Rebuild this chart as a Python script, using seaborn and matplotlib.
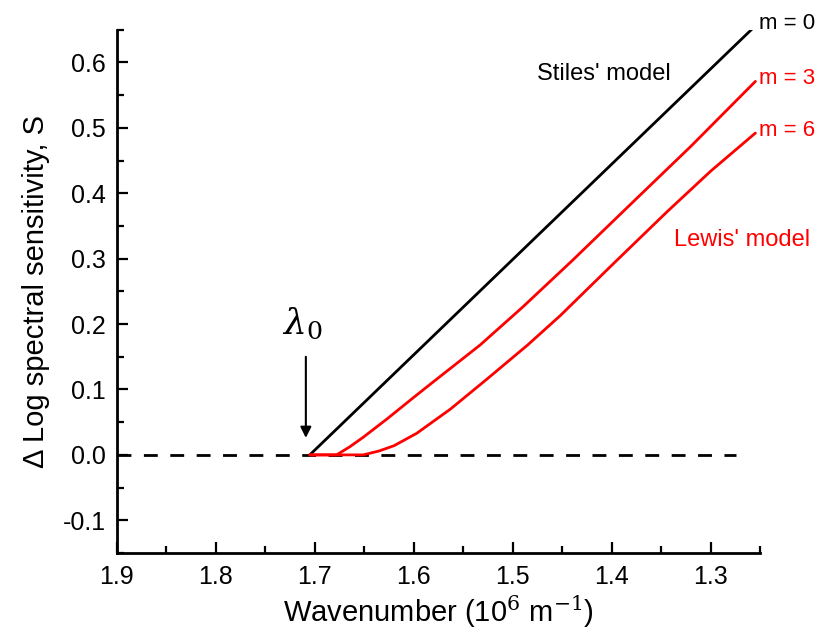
import pandas as pd
from matplotlib import pyplot as plt
from matplotlib.ticker import MultipleLocator
import seaborn as sns

# values
stiles_x = [1.705, 1.48, 1.255]
stiles_y = [0.0, 0.328, 0.656]

m3_x = [1.705, 1.678, 1.665, 1.651, 1.627, 1.600, 1.580, 1.533, 1.490, 1.440, 1.377, 1.320, 1.255]
m3_y = [0.0, 0.0, 0.012, 0.027, 0.055, 0.088, 0.112, 0.168, 0.226, 0.297, 0.389, 0.472, 0.571]

m6_x = [1.705, 1.651, 1.635, 1.620, 1.597, 1.563, 1.526, 1.485, 1.452, 1.400, 1.344, 1.300, 1.255]
m6_y = [0.0, 0.0, 0.006, 0.014, 0.033, 0.070, 0.116, 0.168, 0.213, 0.290, 0.372, 0.434, 0.492]

baseline_x = [1.9, 1.275]
baseline_y = [0.0, 0.0]

lambda0 = 1.709

sns.set_style('ticks')
plt.rcParams['font.family'] = ['Liberation Sans', 'DejaVu Sans']
plt.rcParams['mathtext.fontset'] = 'dejavuserif'
plt.rcParams['text.color'] = 'black'
plt.rcParams['axes.labelcolor'] = 'black'
plt.rcParams['axes.edgecolor'] = 'black'
plt.rcParams['xtick.color'] = 'black'
plt.rcParams['ytick.color'] = 'black'

df = pd.concat([
    pd.DataFrame({'x': stiles_x, 'y': stiles_y, 'curve': 'm = 0'}),
    pd.DataFrame({'x': m3_x, 'y': m3_y, 'curve': 'm = 3'}),
    pd.DataFrame({'x': m6_x, 'y': m6_y, 'curve': 'm = 6'}),
])
colors = {'m = 0': 'black', 'm = 3': '#ff0000', 'm = 6': '#ff0000'}

fig, ax = plt.subplots(figsize=(8.22, 6.32), dpi=100)
fig.subplots_adjust(left=0.142, right=0.925, bottom=0.125, top=0.953)

ax.plot(baseline_x, baseline_y, color='black', lw=2, dashes=(5, 4.5))

sns.lineplot(data=df, x='x', y='y', hue='curve', palette=colors, sort=False,
             estimator=None, legend=False, linewidth=2, ax=ax)

# end labels
for name, xs, ys in [('m = 0', stiles_x, stiles_y), ('m = 3', m3_x, m3_y), ('m = 6', m6_x, m6_y)]:
    ax.text(xs[-1] - 0.004, ys[-1] + 0.004, name, color=colors[name], fontsize=16,
            ha='left', va='center')

ax.text(1.408, 0.582, "Stiles' model", color='black', fontsize=17, ha='center', va='center')
ax.text(1.337, 0.328, "Lewis' model", color='#ff0000', fontsize=17, ha='left', va='center')

ax.annotate('', xy=(lambda0, 0.026), xytext=(lambda0, 0.15),
            arrowprops=dict(arrowstyle='-|>', color='black', lw=1.5,
                            mutation_scale=16, shrinkA=0, shrinkB=0))
ax.text(lambda0 + 0.004, 0.20, r'$\lambda_0$', fontsize=26, ha='center', va='center')

ax.set_xlim(1.9, 1.25)
ax.set_ylim(-0.15, 0.65)
ax.xaxis.set_minor_locator(MultipleLocator(0.05))
ax.yaxis.set_minor_locator(MultipleLocator(0.05))
ax.set_xticks([1.9, 1.8, 1.7, 1.6, 1.5, 1.4, 1.3])
ax.set_xticklabels(['1.9', '1.8', '1.7', '1.6', '1.5', '1.4', '1.3'])
ax.set_yticks([-0.1, 0.0, 0.1, 0.2, 0.3, 0.4, 0.5, 0.6])
ax.set_yticklabels(['-0.1', '0.0', '0.1', '0.2', '0.3', '0.4', '0.5', '0.6'])

ax.tick_params(which='both', direction='in', width=1.6, labelsize=18, colors='black')
ax.tick_params(which='major', length=8)
ax.tick_params(which='minor', length=5)
ax.tick_params(axis='x', pad=9)
ax.tick_params(axis='y', pad=8)

sns.despine(ax=ax)
for s in ['left', 'bottom']:
    ax.spines[s].set_linewidth(2)
    ax.spines[s].set_color('black')

ax.set_xlabel(r'Wavenumber (10$^{6}$ m$^{-1}$)', fontsize=21, labelpad=3)
ax.set_ylabel('\u0394 Log spectral sensitivity, S', fontsize=21, labelpad=9)

fig.savefig('out.png', dpi=100)
